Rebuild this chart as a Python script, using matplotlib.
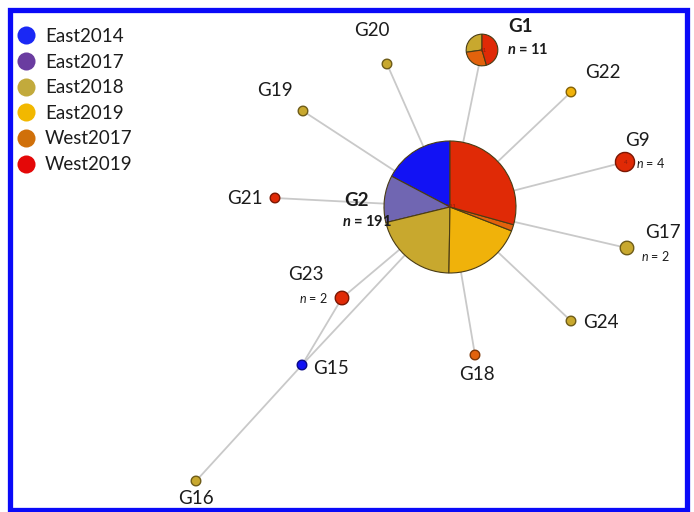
import numpy as np
import matplotlib.pyplot as plt
from matplotlib.lines import Line2D
from matplotlib.patches import Rectangle
import matplotlib.colors as mcolors

plt.rcParams['font.family'] = ['Lato', 'DejaVu Sans']
plt.rcParams['mathtext.fontset'] = 'custom'
plt.rcParams['mathtext.rm'] = 'Lato'
plt.rcParams['mathtext.it'] = 'Lato:italic'
plt.rcParams['mathtext.bf'] = 'Lato:bold'
plt.rcParams['mathtext.bfit'] = 'Lato:italic:bold'

# ---- data -------------------------------------------------------------
groups = ['East2014', 'East2017', 'East2018', 'East2019', 'West2017', 'West2019']

haplotypes = ['G2', 'G1', 'G20', 'G22', 'G19', 'G9', 'G21',
              'G17', 'G23', 'G24', 'G18', 'G15', 'G16']

# sample counts per haplotype for each population (same order as haplotypes)
east2014 = [33, 0, 0, 0, 0, 0, 0, 0, 0, 0, 0, 1, 0]
east2017 = [22, 0, 0, 0, 0, 0, 0, 0, 0, 0, 0, 0, 0]
east2018 = [40, 3, 1, 0, 1, 0, 0, 2, 0, 1, 0, 0, 1]
east2019 = [37, 0, 0, 1, 0, 0, 0, 0, 0, 0, 0, 0, 0]
west2017 = [3, 3, 0, 0, 0, 0, 0, 0, 0, 0, 1, 0, 0]
west2019 = [56, 5, 0, 0, 0, 4, 1, 0, 2, 0, 0, 0, 0]

# network layout (x to the right, y upwards)
node_x = [450, 482, 387, 571, 303, 625, 275, 627, 342, 571, 475, 302, 196]
node_y = [305, 462, 448, 420, 401, 350, 314, 264, 214, 191, 157, 147, 31]

# mutational links between haplotypes
links = [('G2', 'G1'), ('G2', 'G20'), ('G2', 'G22'), ('G2', 'G19'),
         ('G2', 'G9'), ('G2', 'G21'), ('G2', 'G17'), ('G2', 'G23'),
         ('G2', 'G24'), ('G2', 'G18'), ('G2', 'G15'), ('G23', 'G15'),
         ('G15', 'G16')]

# ---- styling ----------------------------------------------------------
node_colors = ['#1212f4', '#7066b2', '#c8a82e', '#f0b20a', '#e2620c', '#e02a06']
legend_colors = ['#1a28f5', '#6a3ca0', '#c2aa3c', '#f2b800', '#d0700a', '#e40808']

# label placement: (x, y, ha) for the name, and for the n-label
name_pos = {
    'G2': (357, 312, 'center'), 'G1': (521, 485, 'center'),
    'G20': (372, 481, 'center'), 'G22': (603, 440, 'center'),
    'G19': (275, 422, 'center'), 'G9': (637, 371, 'center'),
    'G21': (245, 313, 'center'), 'G17': (663, 280, 'center'),
    'G23': (306, 237, 'center'), 'G24': (601, 190, 'center'),
    'G18': (477, 138, 'center'), 'G15': (331, 144, 'center'),
    'G16': (196, 13, 'center'),
}
n_pos = {
    'G2': (367, 290, 'center'), 'G1': (528, 463, 'center'),
    'G9': (651, 349, 'center'), 'G17': (655, 256, 'center'),
    'G23': (313, 214, 'center'),
}

counts = np.array([east2014, east2017, east2018, east2019, west2017, west2019])
totals = counts.sum(axis=0)
scale = 66.0 / np.sqrt(totals.max())   # node radius grows with sqrt(n)

fig = plt.figure(figsize=(6.94, 5.12), dpi=100)
ax = fig.add_axes([0, 0, 1, 1])

idx = {h: i for i, h in enumerate(haplotypes)}

# links
for a, b in links:
    ia, ib = idx[a], idx[b]
    ax.plot([node_x[ia], node_x[ib]], [node_y[ia], node_y[ib]],
            color='#c9c9c9', lw=1.3, zorder=1, solid_capstyle='round')

# nodes as pie charts
for i, h in enumerate(haplotypes):
    vals = counts[:, i]
    keep = vals > 0
    cols = [c for c, k in zip(node_colors, keep) if k]
    r = scale * np.sqrt(totals[i])
    if keep.sum() == 1:
        edge = tuple(np.array(mcolors.to_rgb(cols[0])) * 0.55)
        lw = 1.0
    else:
        edge = '#4a3c14'
        lw = 0.8
    wedges, _ = ax.pie(vals[keep], colors=cols, center=(node_x[i], node_y[i]),
                       radius=r, startangle=90, counterclock=True, frame=True,
                       wedgeprops=dict(edgecolor=edge, linewidth=lw))
    for w in wedges:
        w.set_zorder(3)
    if totals[i] > 3:
        ax.text(node_x[i] + 1, node_y[i], str(totals[i]), fontsize=4.5,
                color='#7a1a10', ha='center', va='center', zorder=4, alpha=0.8)

# labels
for h, (x, y, ha) in name_pos.items():
    bold = h in ('G1', 'G2')
    ax.text(x, y, h, fontsize=13.5, ha=ha, va='center', color='#1c1c1c',
            fontweight='bold' if bold else 'normal', zorder=5)

for h, (x, y, ha) in n_pos.items():
    n = totals[idx[h]]
    if h in ('G1', 'G2'):
        txt = r'$\mathbfit{n}$ = ' + str(n)
        ax.text(x, y, txt, fontsize=10.5, ha=ha, va='center', color='#1c1c1c',
                fontweight='bold', zorder=5)
    else:
        txt = r'$\it{n}$ = ' + str(n)
        ax.text(x, y, txt, fontsize=9, ha=ha, va='center', color='#1c1c1c',
                zorder=5)

# legend
handles = [Line2D([], [], marker='o', ls='none', markersize=13,
                  markerfacecolor=c, markeredgecolor='none', label=g)
           for g, c in zip(groups, legend_colors)]
leg = ax.legend(handles=handles, loc='upper left',
                bbox_to_anchor=(17 / 694, 1 - 28 / 512), frameon=False,
                fontsize=13.5, handlelength=1.0, handletextpad=0.5,
                labelspacing=0.46, borderpad=0, borderaxespad=0)
for t in leg.get_texts():
    t.set_color('#1c1c1c')

# outer frame
ax.add_patch(Rectangle((10.5, 2), 677, 500.5, fill=False,
                       edgecolor='#0a0af8', lw=3.8, zorder=10, clip_on=False))

ax.set_xlim(0, 694)
ax.set_ylim(0, 512)
ax.set_aspect('equal')
ax.axis('off')

fig.savefig('out.png', dpi=100)
